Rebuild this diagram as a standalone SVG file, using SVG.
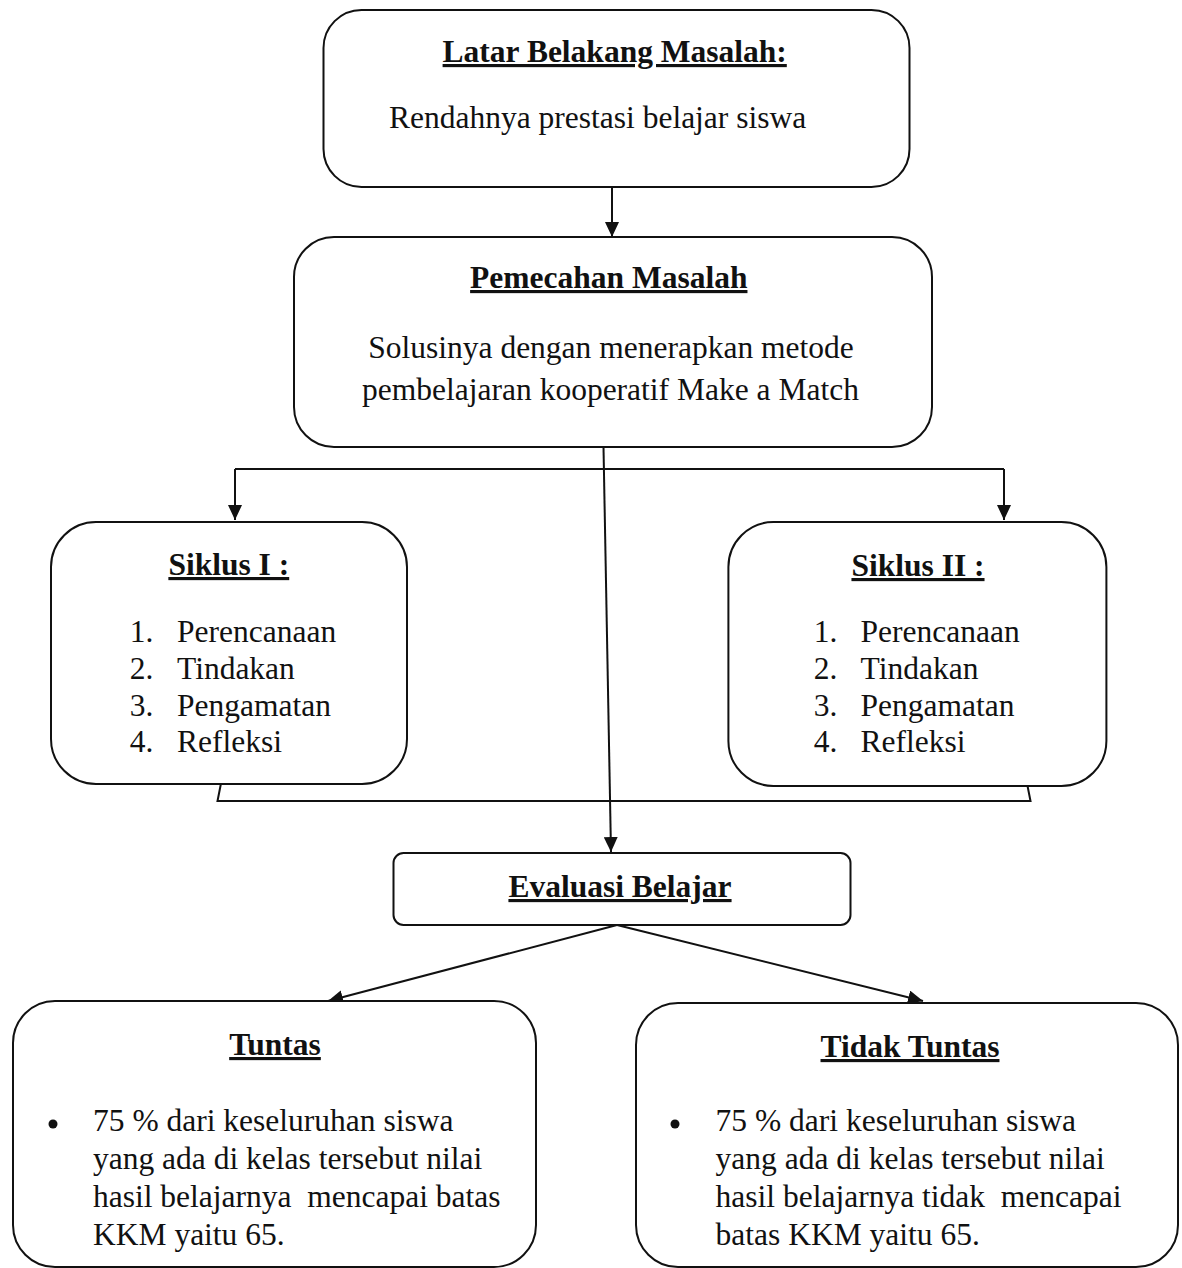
<svg xmlns="http://www.w3.org/2000/svg" width="1182" height="1268" viewBox="0 0 1182 1268">
<defs>
<marker id="arr" markerUnits="userSpaceOnUse" markerWidth="16" markerHeight="14" refX="15" refY="7" orient="auto">
<path d="M0,0 L15,7 L0,14 z" fill="#111"/>
</marker>
<style>
.box{fill:#fff;stroke:#111;stroke-width:2}
.ln{fill:none;stroke:#111;stroke-width:2}
text{font-family:"Liberation Serif","Times New Roman",serif;font-size:31.5px;fill:#111}
.t{font-weight:bold;text-anchor:middle;text-decoration:underline}
.c{text-anchor:middle}
</style>
</defs>
<rect width="1182" height="1268" fill="#fff"/>

<g id="connectors">
<line class="ln" x1="612" y1="188" x2="612" y2="237" marker-end="url(#arr)"/>
<line class="ln" x1="603.5" y1="447" x2="611" y2="852" marker-end="url(#arr)"/>
<polyline class="ln" points="235,469 1004,469"/>
<line class="ln" x1="235" y1="469" x2="235" y2="520" marker-end="url(#arr)"/>
<line class="ln" x1="1004" y1="469" x2="1004" y2="520" marker-end="url(#arr)"/>
<polyline class="ln" points="225,763 217.5,801 1030.5,801 1023,763"/>
<line class="ln" x1="617" y1="925" x2="328" y2="1001" marker-end="url(#arr)"/>
<line class="ln" x1="617" y1="925" x2="923" y2="1001" marker-end="url(#arr)"/>
</g>

<g id="latar">
<rect class="box" x="323.5" y="10" width="586" height="177" rx="38"/>
<text class="t" x="614.7" y="62">Latar Belakang Masalah:</text>
<text class="c" x="597.6" y="128">Rendahnya prestasi belajar siswa</text>
</g>

<g id="pemecahan">
<rect class="box" x="294" y="237" width="638" height="210" rx="40"/>
<text class="t" x="608.8" y="288">Pemecahan Masalah</text>
<text class="c" x="611" y="358">Solusinya dengan menerapkan metode</text>
<text class="c" x="610.5" y="400">pembelajaran kooperatif Make a Match</text>
</g>

<g id="siklus1">
<rect class="box" x="51" y="522" width="356" height="262" rx="45"/>
<text class="t" x="228.8" y="575">Siklus I :</text>
<text x="129.7" y="642">1.</text><text x="177" y="642">Perencanaan</text>
<text x="129.7" y="679">2.</text><text x="177" y="679">Tindakan</text>
<text x="129.7" y="716">3.</text><text x="177" y="716">Pengamatan</text>
<text x="129.7" y="752">4.</text><text x="177" y="752">Refleksi</text>
</g>

<g id="siklus2">
<rect class="box" x="728.4" y="522" width="378" height="264" rx="45"/>
<text class="t" x="918" y="576">Siklus II :</text>
<text x="813.8" y="642">1.</text><text x="860.6" y="642">Perencanaan</text>
<text x="813.8" y="679">2.</text><text x="860.6" y="679">Tindakan</text>
<text x="813.8" y="716">3.</text><text x="860.6" y="716">Pengamatan</text>
<text x="813.8" y="752">4.</text><text x="860.6" y="752">Refleksi</text>
</g>

<g id="evaluasi">
<rect class="box" x="393.5" y="853" width="457" height="72" rx="10"/>
<text class="t" x="620" y="897">Evaluasi Belajar</text>
</g>

<g id="tuntas">
<rect class="box" x="13" y="1001" width="523" height="266" rx="42"/>
<text class="t" x="275" y="1055">Tuntas</text>
<circle cx="53" cy="1124" r="4.5" fill="#111"/>
<text x="93" y="1131">75 % dari keseluruhan siswa</text>
<text x="93" y="1169">yang ada di kelas tersebut nilai</text>
<text x="93" y="1207" xml:space="preserve">hasil belajarnya  mencapai batas</text>
<text x="93" y="1245">KKM yaitu 65.</text>
</g>

<g id="tidak-tuntas">
<rect class="box" x="636" y="1003" width="542" height="264" rx="42"/>
<text class="t" x="910" y="1057">Tidak Tuntas</text>
<circle cx="675" cy="1124" r="4.5" fill="#111"/>
<text x="715.6" y="1131">75 % dari keseluruhan siswa</text>
<text x="715.6" y="1169">yang ada di kelas tersebut nilai</text>
<text x="715.6" y="1207" xml:space="preserve">hasil belajarnya tidak  mencapai</text>
<text x="715.6" y="1245">batas KKM yaitu 65.</text>
</g>
</svg>
